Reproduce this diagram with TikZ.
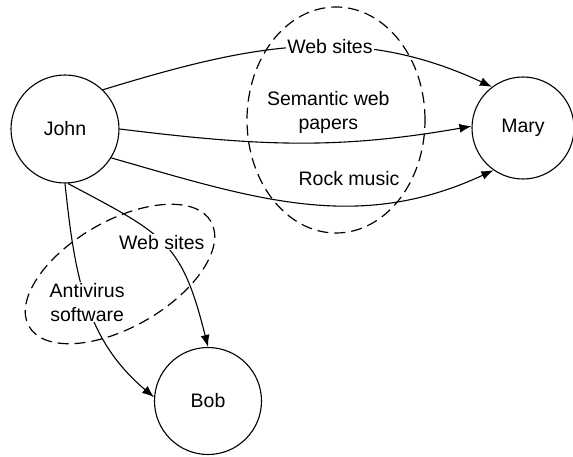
\documentclass[tikz,border=0pt]{standalone}
\usepackage{fontspec}
\setmainfont{Liberation Sans}
\usetikzlibrary{arrows.meta}
\begin{document}
\begin{tikzpicture}[x=1pt,y=1pt,>={Latex[length=12pt,width=9pt]},
        line width=1.1pt,
        person/.style={draw,circle,inner sep=0pt,minimum size=#1},
        topic/.style={fill=white,inner sep=1pt,align=center},
        group/.style={dash pattern=on 11pt off 6pt,line width=1.2pt}]
    \useasboundingbox (0,0) rectangle (573,456);
    \fontsize{19.5}{24}\selectfont
    % topic groups
    \draw [group](336,336) ellipse [x radius=89,y radius=113];
    \draw [group,rotate around={30:(120,182)}](120,182) ellipse [x radius=105,y radius=53];
    % people
    \node [person=108] (john) at (65,327) {John};
    \node [person=102] (mary) at (523,328) {Mary};
    \node [person=107] (bob) at (208,55) {Bob};
    % shared interests
    \draw [->](john.46) to [out=17,in=155] node [topic,pos=.58]{Web sites} (mary.127);
    \draw [->](john.0) to [out=-7,in=190]
        node [topic,fill=none,pos=.6,above=7pt]{Semantic web\\papers} (mary.178);
    \draw [->](john.-32) to [out=-16,in=205]
        node [topic,fill=none,pos=.62,above=18pt]{Rock music} (mary.235);
    \draw [->](john.-87) to [out=-28,in=104,looseness=1.3]
        node [topic,pos=.48]{Web sites} (bob.90);
    \draw [->](john.-90) to [out=-84,in=140]
        node [topic,pos=.5]{Antivirus\\software} (bob.176);
\end{tikzpicture}
\end{document}
